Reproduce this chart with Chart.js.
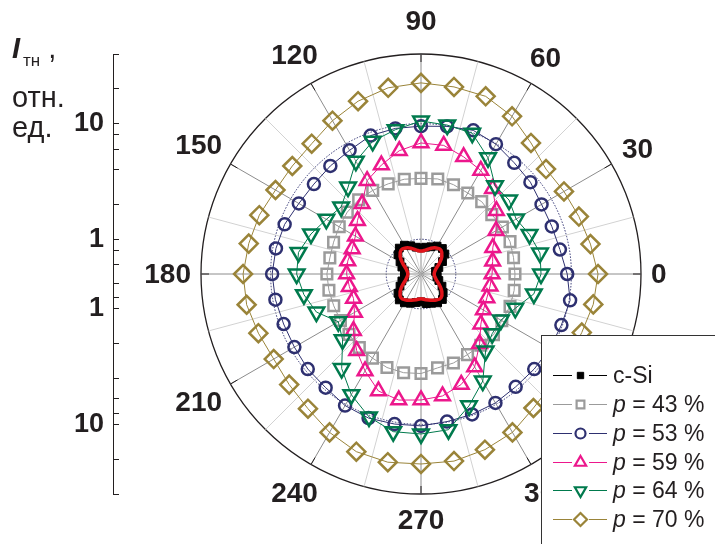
<!DOCTYPE html>
<html>
<head>
<meta charset="utf-8">
<script src="https://cdn.jsdelivr.net/npm/chart.js@4.4.1/dist/chart.umd.min.js"></script>
<style>
  body { margin: 0; background: #fff; }
  #wrap { position: relative; width: 715px; height: 544px; overflow: hidden;
          font-family: "Liberation Sans", Arial, sans-serif; color: #231f20; }
  canvas { position: absolute; left: 0; top: 0; }
  .t { position: absolute; left: 12px; font-size: 29px; line-height: 29px; white-space: nowrap; }
  .sub { font-size: 17px; position: relative; top: 8px; margin-left: 3px; }
</style>
</head>
<body>
<div id="wrap">
  <canvas id="polar" width="715" height="544"></canvas>
  <canvas id="axis" width="119" height="544"></canvas>
  <div class="t" style="top:34px"><b><i>I</i></b><span class="sub">тн</span> ,</div>
  <div class="t" style="top:83px">отн.</div>
  <div class="t" style="top:113px">ед.</div>
</div>
<script>
// angles of the measured points, degrees
const angleDeg = [0, 10, 20, 30, 40, 50, 60, 70, 80, 90, 100, 110, 120, 130, 140, 150, 160, 170,
                  180, 190, 200, 210, 220, 230, 240, 250, 260, 270, 280, 290, 300, 310, 320, 330, 340, 350];

// I_th, rel. units
const cSi = [0.69, 0.67, 0.73, 0.82, 0.93, 0.97, 0.95, 0.89, 0.86, 0.84,
             0.86, 0.91, 0.97, 0.98, 0.91, 0.81, 0.75, 0.70, 0.69, 0.70,
             0.75, 0.81, 0.91, 0.98, 0.97, 0.93, 0.89, 0.87, 0.91, 0.93,
             0.97, 0.97, 0.89, 0.81, 0.73, 0.69];
const cSiFit = [0.65, 0.66, 0.69, 0.76, 0.86, 0.93, 0.91, 0.86, 0.81, 0.79,
                0.81, 0.86, 0.91, 0.93, 0.86, 0.76, 0.69, 0.66, 0.65, 0.66,
                0.69, 0.76, 0.86, 0.93, 0.91, 0.87, 0.84, 0.82, 0.84, 0.87,
                0.91, 0.93, 0.86, 0.76, 0.69, 0.66];
const p43 = [3.25, 3.25, 3.30, 3.25, 3.15, 3.28, 3.22, 3.32, 3.42, 3.36,
             3.40, 3.38, 3.42, 3.45, 3.40, 3.28, 3.19, 3.16, 3.26, 3.22,
             3.18, 3.19, 3.25, 3.38, 3.46, 3.63, 3.68, 3.63, 3.34, 3.30,
             3.19, 3.19, 3.29, 3.21, 3.30, 3.29];
const p53 = [9.2, 8.3, 8.0, 8.0, 8.6, 9.0, 9.9, 10.5, 9.9, 9.5,
             9.5, 9.4, 8.6, 8.3, 8.1, 8.3, 9.0, 9.4, 9.7, 9.5,
             9.2, 9.2, 9.5, 9.6, 10.3, 10.6, 10.4, 10.3, 9.9, 9.8,
             9.7, 9.4, 9.5, 9.7, 9.8, 10.2];
const p59 = [2.06, 2.13, 2.29, 2.81, 3.55, 4.59, 5.41, 5.99, 6.74, 6.80,
             6.05, 5.03, 4.28, 3.10, 2.61, 2.26, 2.15, 2.20, 2.20, 2.13,
             2.09, 2.31, 2.90, 3.67, 4.65, 5.97, 6.40, 6.15, 5.89, 5.20,
             4.24, 3.07, 2.37, 2.10, 2.02, 2.02];
const p64 = [5.46, 5.55, 4.99, 4.46, 4.94, 4.96, 7.23, 9.88, 10.16, 10.53,
             9.27, 8.33, 6.70, 4.79, 3.99, 4.41, 5.15, 5.96, 5.95, 5.34,
             4.59, 3.35, 3.84, 5.84, 8.03, 10.34, 12.13, 12.10, 11.66, 8.18,
             5.86, 3.70, 3.18, 3.14, 3.69, 4.90];
const p70 = [17.0, 15.4, 14.2, 13.4, 12.9, 15.1, 18.8, 21.6, 22.0, 22.5,
             21.6, 19.5, 17.0, 14.8, 14.2, 14.2, 15.4, 16.3, 17.3, 17.0,
             15.7, 14.8, 15.4, 16.6, 19.1, 21.6, 22.5, 22.0, 22.0, 20.7,
             19.1, 16.3, 15.1, 14.8, 15.1, 16.3];

const angleTicks = [0, 30, 60, 90, 120, 150, 180, 210, 240, 270, 300, 330];
const radialTicks = [1, 10];
const axisTicks = [0.6, 0.8, 1, 2, 4, 6, 8, 10, 20, 40];
const rMin = 0.5, rMax = 40;

const FONT = '"Liberation Sans", Arial, sans-serif';
const INK = '#231f20';

// radar slots every 5 deg, going clockwise from 0 deg (right)
const STEP = 5;
const slotAngles = [];
for (let i = 0; i < 360 / STEP; i++) slotAngles.push((360 - i * STEP) % 360);

function toSlots(values) {
  return slotAngles.map(a => {
    const k = angleDeg.indexOf(a);
    return k < 0 ? null : Math.log10(values[k]);
  });
}

function ds(label, values, color, style, radius, extra) {
  return Object.assign({
    label: label,
    data: toSlots(values),
    borderColor: color,
    borderWidth: 1,
    fill: false,
    spanGaps: true,
    pointStyle: style,
    pointRadius: radius,
    pointHoverRadius: radius,
    pointBorderColor: color,
    pointBorderWidth: 2.5,
    pointBackgroundColor: 'rgba(0,0,0,0)'
  }, extra || {});
}

const cBlack = '#000000', cRed = '#e2141b', cGray = '#9b9b9b', cNavy = '#2e3070',
      cPink = '#ec178c', cGreen = '#007a4d', cOlive = '#9a8439';

// first dataset is drawn on top
const datasets = [
  ds('fit', cSiFit, cRed, false, 0, { borderWidth: 3.5, tension: 0.4 }),
  ds('c-Si', cSi, cBlack, 'rect', 5.5, { pointBackgroundColor: cBlack, pointBorderWidth: 1 }),
  ds('p = 64 %', p64, cGreen, 'triangle', 9, { pointRotation: 180 }),
  ds('p = 59 %', p59, cPink, 'triangle', 8.5),
  ds('p = 53 %', p53, cNavy, 'circle', 6),
  ds('p = 43 %', p43, cGray, 'rect', 7.5),
  ds('p = 70 %', p70, cOlive, 'rectRot', 9)
];

const legendRows = [
  { text: 'c-Si', color: cBlack, style: 'rect', r: 4.5, fill: cBlack, bw: 1 },
  { text: '43 %', color: cGray, style: 'rect', r: 5.5 },
  { text: '53 %', color: cNavy, style: 'circle', r: 5 },
  { text: '59 %', color: cPink, style: 'triangle', r: 6.5 },
  { text: '64 %', color: cGreen, style: 'triangle', r: 6.5, rot: 180 },
  { text: '70 %', color: cOlive, style: 'rectRot', r: 6.5 }
];

const rimPlugin = {
  id: 'rimLabels',
  afterDraw(chart) {
    const s = chart.scales.r, ctx = chart.ctx;
    const R = s.drawingArea;
    ctx.save();
    // short dark ticks on the rim
    ctx.strokeStyle = INK;
    ctx.lineWidth = 1;
    angleTicks.forEach(a => {
      const t = a * Math.PI / 180;
      ctx.beginPath();
      ctx.moveTo(s.xCenter + (R - 8) * Math.cos(t), s.yCenter - (R - 8) * Math.sin(t));
      ctx.lineTo(s.xCenter + R * Math.cos(t), s.yCenter - R * Math.sin(t));
      ctx.stroke();
    });
    // angle labels
    ctx.font = 'bold 28px ' + FONT;
    ctx.fillStyle = INK;
    ctx.textAlign = 'center';
    ctx.textBaseline = 'middle';
    angleTicks.forEach(a => {
      const t = a * Math.PI / 180;
      const w = ctx.measureText(String(a)).width;
      let d = R + 10 + w / 2 * Math.abs(Math.cos(t)) + 13 * Math.abs(Math.sin(t));
      if (a === 90) d += 10;
      if (a === 270) d += 3;
      ctx.fillText(String(a), s.xCenter + d * Math.cos(t), s.yCenter - d * Math.sin(t) + 1);
    });
    ctx.restore();
  }
};

const legendPlugin = {
  id: 'boxLegend',
  afterDraw(chart) {
    const ctx = chart.ctx;
    ctx.save();
    ctx.fillStyle = '#ffffff';
    ctx.fillRect(541.5, 335.5, 200, 230);
    ctx.strokeStyle = '#333333';
    ctx.lineWidth = 1;
    ctx.strokeRect(541.5, 335.5, 200, 230);
    legendRows.forEach((row, i) => {
      const y = Math.round(375 + i * 28.85) + 0.5;
      ctx.strokeStyle = row.color;
      ctx.lineWidth = 1;
      ctx.beginPath();
      ctx.moveTo(553, y); ctx.lineTo(572, y);
      ctx.moveTo(589, y); ctx.lineTo(607, y);
      ctx.stroke();
      ctx.fillStyle = row.fill || 'rgba(0,0,0,0)';
      ctx.lineWidth = row.bw || 2.2;
      Chart.helpers.drawPoint(ctx, { pointStyle: row.style, radius: row.r, rotation: row.rot || 0,
                                     borderWidth: row.bw || 2.2 }, 580.5, y);
      ctx.fillStyle = INK;
      ctx.textBaseline = 'middle';
      ctx.textAlign = 'left';
      if (i === 0) {
        ctx.font = '23px ' + FONT;
        ctx.fillText(row.text, 613, y + 1);
      } else {
        ctx.font = 'italic 23px ' + FONT;
        ctx.fillText('p', 613, y + 1);
        const pw = ctx.measureText('p').width;
        ctx.font = '23px ' + FONT;
        ctx.fillText(' = ' + row.text, 613 + pw, y + 1);
      }
    });
    ctx.restore();
  }
};

const logMax = Math.log10(rMax);

new Chart(document.getElementById('polar'), {
  type: 'radar',
  data: { labels: slotAngles.map(String), datasets: datasets },
  options: {
    responsive: false,
    animation: false,
    devicePixelRatio: 1,
    layout: { padding: { left: 201, top: 54, right: 74, bottom: 50 } },
    plugins: { legend: { display: false }, tooltip: { enabled: false } },
    scales: {
      r: {
        min: Math.log10(rMin),
        max: logMax,
        beginAtZero: false,
        startAngle: 90,
        ticks: { display: false },
        afterBuildTicks: s => {
          s.ticks = radialTicks.concat([rMax]).map(v => ({ value: Math.log10(v) }));
        },
        grid: {
          circular: true,
          color: c => (c.tick && c.tick.value > logMax - 1e-6) ? INK : cNavy,
          lineWidth: c => (c.tick && c.tick.value > logMax - 1e-6) ? 1.3 : 1
        },
        border: {
          dash: c => (c.tick && c.tick.value > logMax - 1e-6) ? [] : [1.5, 1.5]
        },
        angleLines: {
          color: c => slotAngles[c.index] % 30 === 0 ? '#8c8c8c' : '#d2d2d2',
          lineWidth: c => slotAngles[c.index] % 15 === 0 ? 1 : 0
        },
        pointLabels: { display: false }
      }
    }
  },
  plugins: [rimPlugin, legendPlugin]
});

function halfAxis(reverse) {
  return {
    type: 'logarithmic',
    position: 'left',
    stack: 'radius',
    stackWeight: 1,
    reverse: reverse,
    min: rMin,
    max: rMax,
    afterBuildTicks: s => { s.ticks = axisTicks.map(v => ({ value: v })); },
    afterFit: s => { s.width = 50; },
    ticks: {
      autoSkip: false,
      padding: 9,
      color: INK,
      font: { family: FONT, size: 27, weight: 'bold' },
      callback: v => radialTicks.includes(v) ? String(v) : ''
    },
    grid: { drawTicks: false, drawOnChartArea: true, color: INK, lineWidth: 1 },
    border: { display: true, color: INK, width: 1 }
  };
}

// stacked halves: the later scale is laid out above the earlier one
new Chart(document.getElementById('axis'), {
  type: 'line',
  data: { labels: [], datasets: [] },
  options: {
    responsive: false,
    animation: false,
    devicePixelRatio: 1,
    layout: { padding: { left: 63, top: 54, right: 0, bottom: 50 } },
    plugins: { legend: { display: false }, tooltip: { enabled: false } },
    scales: {
      x: { display: false },
      yLow: halfAxis(true),
      yUp: halfAxis(false)
    }
  }
});
</script>
</body>
</html>
